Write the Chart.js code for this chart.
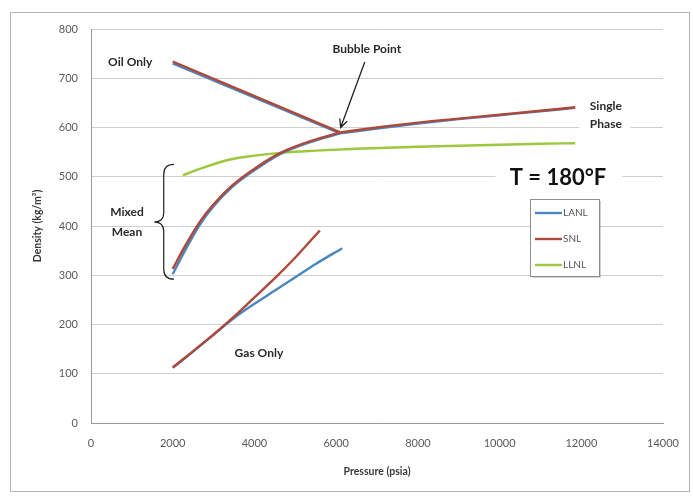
<!DOCTYPE html>
<html>
<head>
<meta charset="utf-8">
<script src="https://cdn.jsdelivr.net/npm/chart.js@4/dist/chart.umd.min.js"></script>
<style>
  html, body { margin: 0; padding: 0; background: #fff; }
  #wrap { width: 693px; height: 496px; }
</style>
</head>
<body>
<div id="wrap"><canvas id="c" width="693" height="496"></canvas></div>
<script>
// Density of the mixture vs. pressure at T = 180 F, three labs compared
const labs = ['LANL', 'SNL', 'LLNL'];
const labColors = ['#4a86c0', '#b0483a', '#9cc83c'];

const xTicks = [0, 2000, 4000, 6000, 8000, 10000, 12000, 14000];
const yTicks = [0, 100, 200, 300, 400, 500, 600, 700, 800];

// Oil-only branch (psia, kg/m3)
const oilP = [2000, 6100];
const lanlOil = [730, 588];
const snlOil = [734, 590];

// Mixed-mean branch
const mixP = [2000, 2300, 2650, 3000, 3450, 4100, 4650, 5470, 6100];
const lanlMix = [302, 350, 401, 440, 479, 519, 547, 573, 588];
const snlMix = [313, 359, 407, 444, 482, 522, 549, 575, 590];

// Single-phase branch above the bubble point
const singleP = [6100, 7000, 8000, 9000, 10000, 11000, 11850];
const lanlSingle = [588, 598, 608, 617, 625, 633, 640];
const snlSingle = [590, 600, 610, 618, 626, 634, 641];

// Gas-only branch
const snlGasP = [2000, 2500, 3000, 3500, 4000, 4500, 5000, 5600];
const snlGas = [113, 146, 180, 216, 255, 294, 336, 391];
const lanlGasP = [2000, 2500, 3000, 3500, 4000, 4500, 5000, 5500, 6150];
const lanlGas = [112, 145, 179, 213, 242, 269, 296, 323, 355];

// LLNL single curve
const llnlP = [2250, 2700, 3400, 4000, 4700, 5500, 6500, 8000, 9500, 11000, 11850];
const llnlRho = [503, 517, 535, 543, 549, 553, 557, 561, 564, 567, 568];

function pts(xs, ys) { return xs.map((x, i) => ({ x: x, y: ys[i] })); }

function seg(labIdx, xs, ys, order) {
  return {
    label: labs[labIdx],
    data: pts(xs, ys),
    borderColor: labColors[labIdx],
    backgroundColor: labColors[labIdx],
    borderWidth: 2.4,
    pointRadius: 0,
    showLine: true,
    cubicInterpolationMode: 'monotone',
    order: order
  };
}

const datasets = [
  seg(1, oilP, snlOil, 0),
  seg(1, mixP, snlMix, 0),
  seg(1, singleP, snlSingle, 0),
  seg(1, snlGasP, snlGas, 0),
  seg(0, oilP, lanlOil, 1),
  seg(0, mixP, lanlMix, 1),
  seg(0, singleP, lanlSingle, 1),
  seg(0, lanlGasP, lanlGas, 1),
  seg(2, llnlP, llnlRho, 2)
];

const FONT = 'Lato, "Open Sans", "DejaVu Sans", sans-serif';

const decor = {
  id: 'decor',
  beforeDraw(chart) {
    const ctx = chart.ctx;
    ctx.save();
    ctx.fillStyle = '#fff';
    ctx.fillRect(0, 0, chart.width, chart.height);
    ctx.strokeStyle = '#b5b5b5';
    ctx.lineWidth = 1;
    ctx.strokeRect(10.5, 12.5, 679, 479);
    ctx.restore();
  },
  afterDatasetsDraw(chart) {
    const ctx = chart.ctx;
    const xs = chart.scales.x, ys = chart.scales.y;
    const X = v => xs.getPixelForValue(v);
    const Y = v => ys.getPixelForValue(v);
    ctx.save();

    // text notes
    ctx.fillStyle = '#2a2a2a';
    ctx.textAlign = 'center';
    ctx.textBaseline = 'middle';
    ctx.font = 'bold 12px ' + FONT;
    ctx.fillText('Oil Only', X(960), Y(732));
    ctx.fillText('Bubble Point', X(6750), Y(759));
    ctx.fillText('Mixed', X(880), Y(429));
    ctx.fillText('Mean', X(880), Y(388));
    ctx.fillText('Gas Only', X(4110), Y(142));

    // "Single Phase" sits on a white patch over the grid
    ctx.fillStyle = '#fff';
    ctx.fillRect(X(11950), Y(660), X(13200) - X(11950), Y(590) - Y(660));
    ctx.fillStyle = '#2a2a2a';
    ctx.fillText('Single', X(12600), Y(643));
    ctx.fillText('Phase', X(12600), Y(606));

    // temperature label
    ctx.fillStyle = '#fff';
    ctx.fillRect(X(9900), Y(525), X(13000) - X(9900), Y(470) - Y(525));
    ctx.fillStyle = '#111';
    ctx.font = 'bold 22px ' + FONT;
    ctx.fillText('T = 180°F', X(11430), Y(497));

    // bubble point arrow
    const ax0 = X(6700), ay0 = Y(733), ax1 = X(6110), ay1 = Y(600);
    ctx.strokeStyle = '#222';
    ctx.lineWidth = 1.3;
    ctx.beginPath();
    ctx.moveTo(ax0, ay0);
    ctx.lineTo(ax1, ay1);
    const ang = Math.atan2(ay1 - ay0, ax1 - ax0);
    const hl = 9, hw = 0.45;
    ctx.moveTo(ax1 - hl * Math.cos(ang - hw), ay1 - hl * Math.sin(ang - hw));
    ctx.lineTo(ax1, ay1);
    ctx.lineTo(ax1 - hl * Math.cos(ang + hw), ay1 - hl * Math.sin(ang + hw));
    ctx.stroke();

    // brace for the mixed-mean range
    const bx = X(1780), tip = X(1550), hook = X(2030);
    const bt = Y(525), bm = Y(408), bb = Y(292);
    ctx.lineWidth = 1.2;
    ctx.beginPath();
    ctx.moveTo(hook, bt);
    ctx.quadraticCurveTo(bx, bt, bx, bt + 10);
    ctx.lineTo(bx, bm - 9);
    ctx.quadraticCurveTo(bx, bm, tip, bm);
    ctx.quadraticCurveTo(bx, bm, bx, bm + 9);
    ctx.lineTo(bx, bb - 10);
    ctx.quadraticCurveTo(bx, bb, hook, bb);
    ctx.stroke();

    // legend box
    const lx = 530, ly = 199, lw = 69, lh = 77;
    ctx.fillStyle = 'rgba(0,0,0,0.18)';
    ctx.fillRect(lx + 2, ly + 2, lw, lh);
    ctx.fillStyle = '#fff';
    ctx.fillRect(lx, ly, lw, lh);
    ctx.strokeStyle = '#8e8e8e';
    ctx.lineWidth = 1;
    ctx.strokeRect(lx + 0.5, ly + 0.5, lw, lh);
    ctx.font = '10px ' + FONT;
    ctx.textAlign = 'left';
    const rows = [213, 239, 265];
    labs.forEach((name, i) => {
      ctx.strokeStyle = labColors[i];
      ctx.lineWidth = 2.4;
      ctx.beginPath();
      ctx.moveTo(535, rows[i]);
      ctx.lineTo(562, rows[i]);
      ctx.stroke();
      ctx.fillStyle = '#555';
      ctx.fillText(name, 563, rows[i]);
    });
    ctx.restore();
  }
};

new Chart(document.getElementById('c'), {
  type: 'scatter',
  data: { datasets: datasets },
  options: {
    responsive: false,
    animation: false,
    devicePixelRatio: 1,
    layout: { padding: { top: 29, right: 23, left: 0, bottom: 0 } },
    plugins: { legend: { display: false }, tooltip: { enabled: false } },
    scales: {
      x: {
        type: 'linear',
        min: 0, max: 14000,
        afterBuildTicks: s => { s.ticks = xTicks.map(v => ({ value: v })); },
        afterFit: s => { s.height = 73; },
        ticks: { color: '#5a5a5a', font: { family: FONT, size: 11 }, padding: 14, maxRotation: 0,
                 callback: v => String(v) },
        grid: { color: 'rgba(0,0,0,0)', drawTicks: false },
        border: { display: true, color: '#9a9a9a', width: 1 },
        title: { display: true, text: 'Pressure (psia)', color: '#3a3a3a',
                 font: { family: FONT, size: 10.5, weight: 'bold' }, padding: { top: 0, bottom: 18 } }
      },
      y: {
        min: 0, max: 800,
        afterBuildTicks: s => { s.ticks = yTicks.map(v => ({ value: v })); },
        afterFit: s => { s.width = 91; },
        ticks: { color: '#5a5a5a', font: { family: FONT, size: 11 }, padding: 13,
                 callback: v => String(v) },
        grid: { color: '#cfcfcf', drawTicks: false },
        border: { display: true, color: '#9a9a9a', width: 1 },
        title: { display: true, text: 'Density (kg/m³)', color: '#3a3a3a',
                 font: { family: FONT, size: 10.5, weight: 'bold' }, padding: { top: 31, bottom: 0 } }
      }
    }
  },
  plugins: [decor]
});
</script>
</body>
</html>
